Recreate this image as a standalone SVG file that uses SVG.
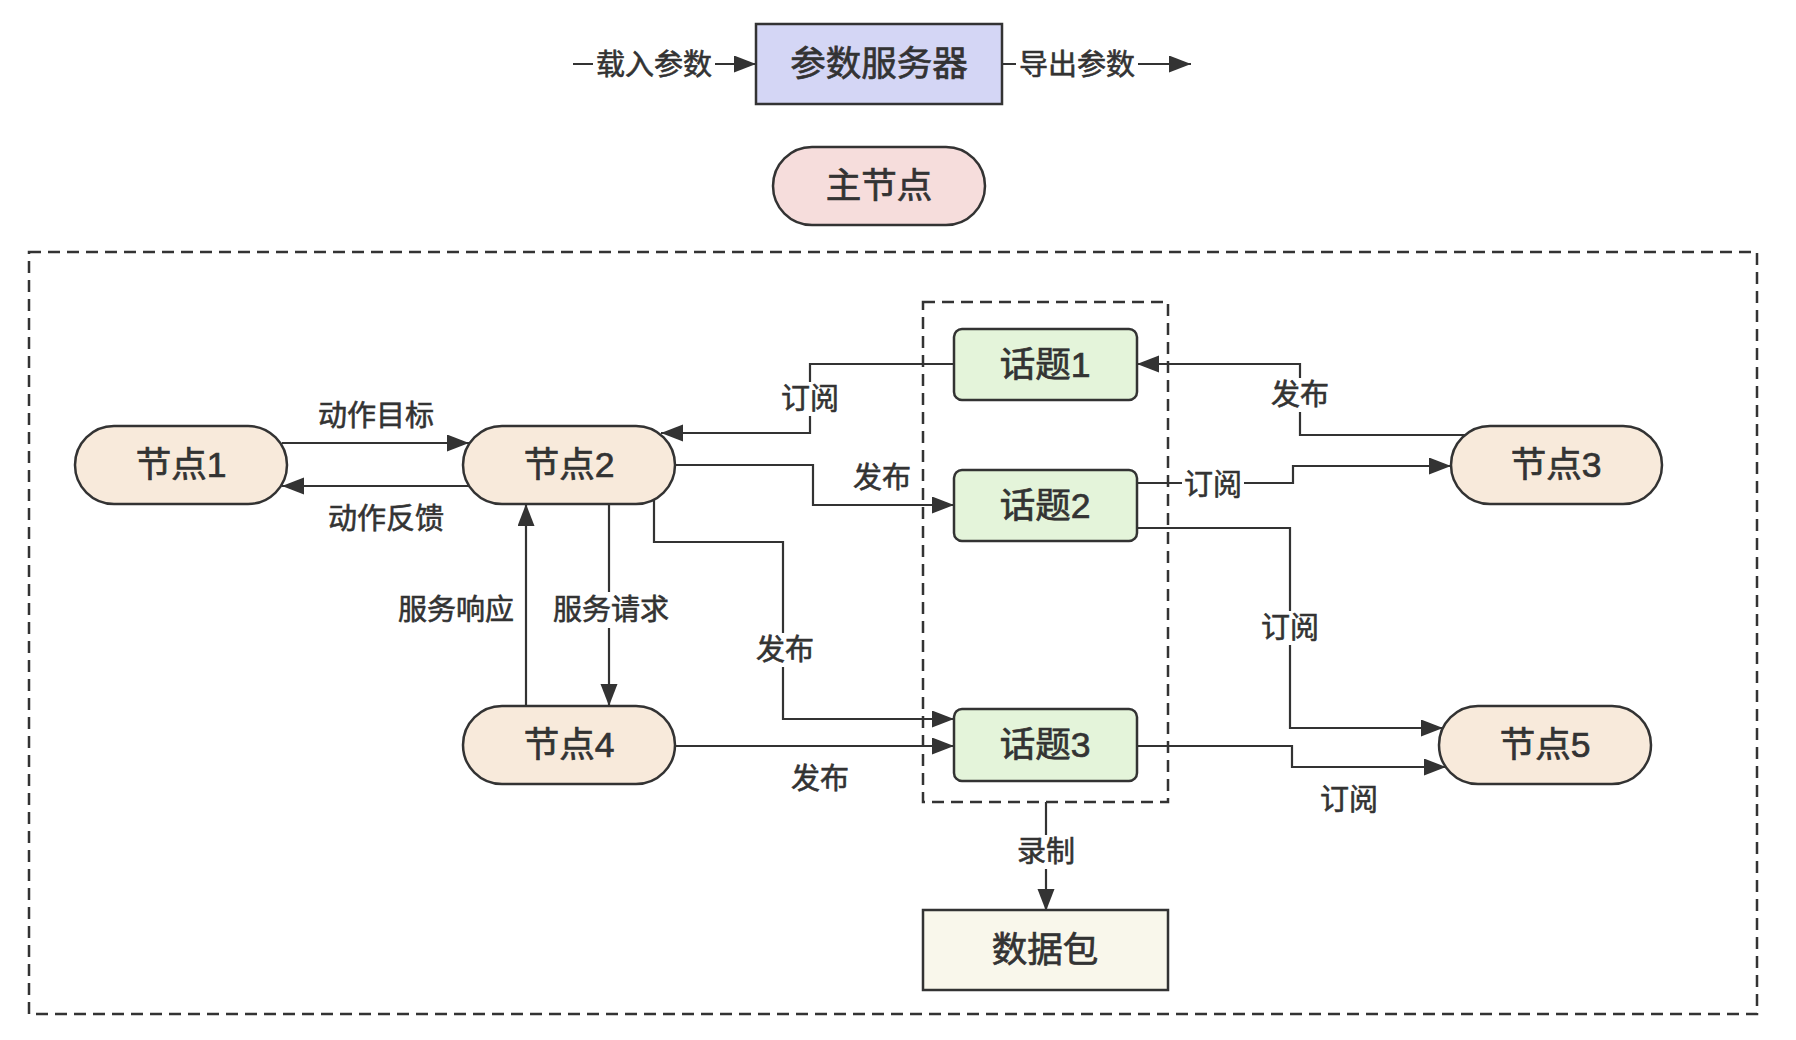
<svg xmlns="http://www.w3.org/2000/svg" width="1796" height="1040" viewBox="0 0 1796 1040">
<style>
text{font-family:"Liberation Sans","Noto Sans CJK SC",sans-serif;fill:#333;stroke:#333;stroke-width:0.7;text-anchor:middle;dominant-baseline:central;font-weight:normal}
.nl{font-size:35.5px}
.el{font-size:29px;stroke-width:0.6}
.box{stroke:#333;stroke-width:2.5}
.node{fill:#f8eadb}
.topic{fill:#e4f4da}
.dash{fill:none;stroke:#333;stroke-width:2.5;stroke-dasharray:12 7}
.edge{fill:none;stroke:#333;stroke-width:2.2;marker-end:url(#arr)}
.bg{fill:#fff}
</style>
<defs>
<marker id="arr" markerUnits="userSpaceOnUse" markerWidth="24" markerHeight="18" refX="22" refY="8.5" orient="auto">
<path d="M0,0 L22,8.5 L0,17 Z" fill="#333"/>
</marker>
</defs>
<rect width="1796" height="1040" fill="#fff"/>

<g id="groups">
<rect id="ros-graph" class="dash" x="29" y="252" width="1728" height="762"/>
<rect id="topics" class="dash" x="923" y="302" width="245" height="500"/>
</g>

<g id="connectors">
<path class="edge" d="M573,64 H756"/>
<path class="edge" d="M1002,64 H1191"/>
<path class="edge" d="M282,443 H469"/>
<path class="edge" d="M470,486 H282"/>
<path class="edge" d="M609,504 V706"/>
<path class="edge" d="M526,706 V504"/>
<path class="edge" d="M954,364 H810 V433 H661"/>
<path class="edge" d="M675,465 H813 V505 H954"/>
<path class="edge" d="M654,500 V542 H783 V719 H954"/>
<path class="edge" d="M675,746 H954"/>
<path class="edge" d="M1465,435 H1300 V364 H1137"/>
<path class="edge" d="M1137,483 H1293 V466 H1451"/>
<path class="edge" d="M1137,528 H1290 V728 H1443"/>
<path class="edge" d="M1137,746 H1292 V767 H1446"/>
<path class="edge" d="M1046,802 V911"/>
</g>

<g id="labels">
<rect class="bg" x="593" y="48" width="122" height="34"/><text class="el" x="654" y="65">载入参数</text>
<rect class="bg" x="1016" y="48" width="122" height="34"/><text class="el" x="1077" y="65">导出参数</text>
<text class="el" x="376" y="416">动作目标</text>
<text class="el" x="386" y="519">动作反馈</text>
<text class="el" x="456" y="610">服务响应</text>
<rect class="bg" x="550" y="592" width="122" height="36"/><text class="el" x="611" y="610">服务请求</text>
<rect class="bg" x="779" y="382" width="62" height="34"/><text class="el" x="810" y="399">订阅</text>
<text class="el" x="882" y="478">发布</text>
<rect class="bg" x="754" y="633" width="62" height="34"/><text class="el" x="785" y="650">发布</text>
<text class="el" x="820" y="779">发布</text>
<rect class="bg" x="1269" y="378" width="62" height="34"/><text class="el" x="1300" y="395">发布</text>
<rect class="bg" x="1182" y="468" width="62" height="34"/><text class="el" x="1213" y="485">订阅</text>
<rect class="bg" x="1259" y="611" width="62" height="34"/><text class="el" x="1290" y="628">订阅</text>
<text class="el" x="1349" y="800">订阅</text>
<rect class="bg" x="1015" y="835" width="62" height="34"/><text class="el" x="1046" y="852">录制</text>
</g>

<g id="param-server"><rect class="box" x="756" y="24" width="246" height="80" fill="#d4d6f5"/><text class="nl" x="879" y="64">参数服务器</text></g>
<g id="master"><rect class="box" x="773" y="147" width="212" height="78" rx="39" fill="#f6dddc"/><text class="nl" x="879" y="186">主节点</text></g>
<g id="node1"><rect class="box node" x="75" y="426" width="212" height="78" rx="39"/><text class="nl" x="181" y="465">节点1</text></g>
<g id="node2"><rect class="box node" x="463" y="426" width="212" height="78" rx="39"/><text class="nl" x="569" y="465">节点2</text></g>
<g id="node3"><rect class="box node" x="1451" y="426" width="211" height="78" rx="39"/><text class="nl" x="1556" y="465">节点3</text></g>
<g id="node4"><rect class="box node" x="463" y="706" width="212" height="78" rx="39"/><text class="nl" x="569" y="745">节点4</text></g>
<g id="node5"><rect class="box node" x="1439" y="706" width="212" height="78" rx="39"/><text class="nl" x="1545" y="745">节点5</text></g>
<g id="topic1"><rect class="box topic" x="954" y="329" width="183" height="71" rx="8"/><text class="nl" x="1045" y="365">话题1</text></g>
<g id="topic2"><rect class="box topic" x="954" y="470" width="183" height="71" rx="8"/><text class="nl" x="1045" y="506">话题2</text></g>
<g id="topic3"><rect class="box topic" x="954" y="709" width="183" height="72" rx="8"/><text class="nl" x="1045" y="745">话题3</text></g>
<g id="bag"><rect class="box" x="923" y="910" width="245" height="80" fill="#f9f7eb"/><text class="nl" x="1045" y="950">数据包</text></g>
</svg>
